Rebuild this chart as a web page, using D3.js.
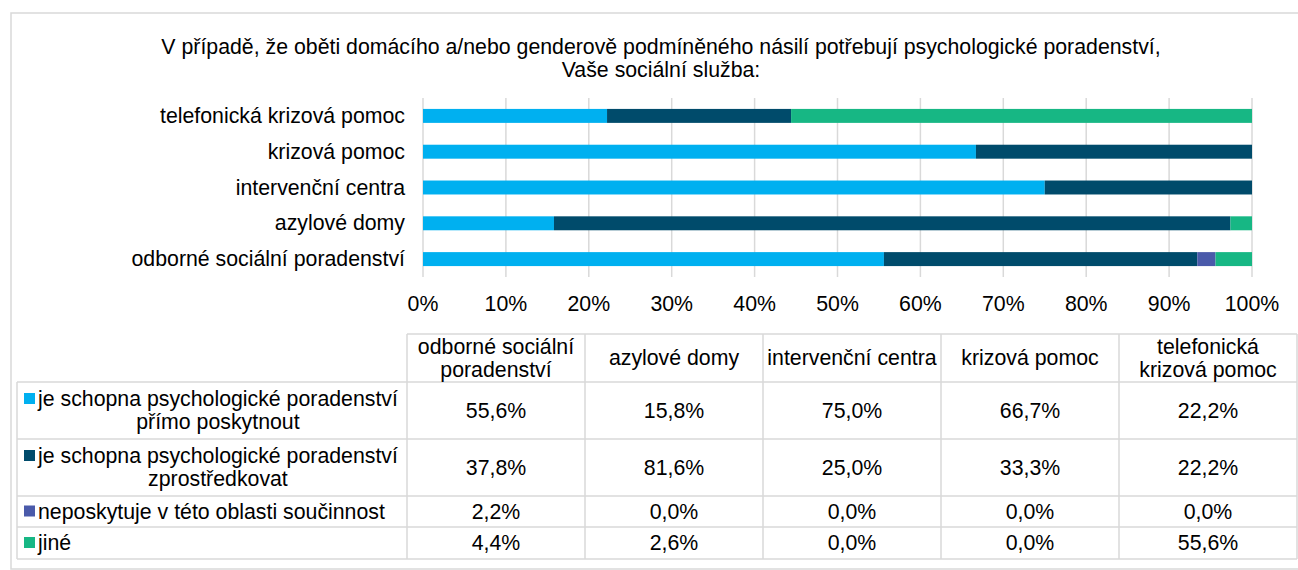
<!DOCTYPE html>
<html>
<head>
<meta charset="utf-8">
<script src="https://cdn.jsdelivr.net/npm/d3@7"></script>
<style>
  html, body { margin: 0; padding: 0; background: #fff; }
  svg { display: block; font-family: "Liberation Sans", Arial, sans-serif; }
</style>
</head>
<body>
<svg id="chart" width="1298" height="570"></svg>
<script>
// data
const titleLines = [
  "V případě, že oběti domácího a/nebo genderově podmíněného násilí potřebují psychologické poradenství,",
  "Vaše sociální služba:"
];
const categories = [
  "odborné sociální poradenství",
  "azylové domy",
  "intervenční centra",
  "krizová pomoc",
  "telefonická krizová pomoc"
];
const headerLines = [
  ["odborné sociální", "poradenství"],
  ["azylové domy"],
  ["intervenční centra"],
  ["krizová pomoc"],
  ["telefonická", "krizová pomoc"]
];
const seriesKeys = ["primo", "zprostredkovat", "neposkytuje", "jine"];
const seriesLines = [
  ["je schopna psychologické poradenství", "přímo poskytnout"],
  ["je schopna psychologické poradenství", "zprostředkovat"],
  ["neposkytuje v této oblasti součinnost"],
  ["jiné"]
];
const seriesColors = ["#00b0f0", "#004b6b", "#4a5aaa", "#17b784"];
const primo = [55.6, 15.8, 75.0, 66.7, 22.2];
const zprostredkovat = [37.8, 81.6, 25.0, 33.3, 22.2];
const neposkytuje = [2.2, 0.0, 0.0, 0.0, 0.0];
const jine = [4.4, 2.6, 0.0, 0.0, 55.6];
const xTicks = [0, 10, 20, 30, 40, 50, 60, 70, 80, 90, 100];

const seriesValues = [primo, zprostredkovat, neposkytuje, jine];
const rows = categories.map((c, i) => {
  const r = { cat: c };
  seriesKeys.forEach((k, j) => (r[k] = seriesValues[j][i]));
  return r;
});

const svg = d3.select("#chart");
const FS = 21.3;
const grid = "#d9d9d9";

// outer frame
svg.append("rect")
  .attr("x", 11).attr("y", 13)
  .attr("width", 1310).attr("height", 556)
  .attr("fill", "none").attr("stroke", grid).attr("stroke-width", 1.5);

// title
svg.append("g").selectAll("text")
  .data(titleLines)
  .join("text")
  .attr("x", 661)
  .attr("y", (d, i) => 54 + i * 23)
  .attr("text-anchor", "middle")
  .style("font-size", FS + "px")
  .text((d) => d);

// scales
const x = d3.scaleLinear().domain([0, 100]).range([423, 1252]);
const y = d3.scaleBand()
  .domain(categories.slice().reverse())
  .range([98, 277]);
const barH = y.bandwidth() * 0.39;

// gridlines
svg.append("g").selectAll("line")
  .data(xTicks)
  .join("line")
  .attr("x1", (d) => x(d)).attr("x2", (d) => x(d))
  .attr("y1", 98).attr("y2", 277)
  .attr("stroke", grid).attr("stroke-width", 1.5);

// stacked bars
const stack = d3.stack().keys(seriesKeys)(rows);
svg.append("g").selectAll("g")
  .data(stack)
  .join("g")
  .attr("fill", (d, i) => seriesColors[i])
  .selectAll("rect")
  .data((d) => d)
  .join("rect")
  .attr("x", (d) => x(d[0]))
  .attr("width", (d) => x(d[1]) - x(d[0]))
  .attr("y", (d) => y(d.data.cat) + (y.bandwidth() - barH) / 2)
  .attr("height", barH);

// category labels
svg.append("g").selectAll("text")
  .data(categories)
  .join("text")
  .attr("x", 405)
  .attr("y", (d) => y(d) + y.bandwidth() / 2 + 7)
  .attr("text-anchor", "end")
  .style("font-size", FS + "px")
  .text((d) => d);

// x tick labels
svg.append("g").selectAll("text")
  .data(xTicks)
  .join("text")
  .attr("x", (d) => x(d))
  .attr("y", 311)
  .attr("text-anchor", "middle")
  .style("font-size", FS + "px")
  .text((d) => d + "%");

// data table
const colX = d3.scaleBand().domain(categories).range([407, 1297]);
const rowEdges = [382, 439, 496, 527, 559];
const tableTop = 334;
const legLeft = 17;
const t = svg.append("g");

// borders
const hLines = [
  { x1: colX.range()[0], x2: colX.range()[1], y: tableTop }
].concat(rowEdges.map((e) => ({ x1: legLeft, x2: 1297, y: e })));
t.selectAll("line.h")
  .data(hLines)
  .join("line")
  .attr("class", "h")
  .attr("x1", (d) => d.x1).attr("x2", (d) => d.x2)
  .attr("y1", (d) => d.y).attr("y2", (d) => d.y)
  .attr("stroke", grid).attr("stroke-width", 1.5);

const vLines = categories.map((c) => colX(c)).concat([1297]);
t.selectAll("line.v")
  .data(vLines)
  .join("line")
  .attr("class", "v")
  .attr("x1", (d) => d).attr("x2", (d) => d)
  .attr("y1", tableTop).attr("y2", rowEdges[rowEdges.length - 1])
  .attr("stroke", grid).attr("stroke-width", 1.5);
t.append("line")
  .attr("x1", legLeft).attr("x2", legLeft)
  .attr("y1", rowEdges[0]).attr("y2", rowEdges[rowEdges.length - 1])
  .attr("stroke", grid).attr("stroke-width", 1.5);

// header
categories.forEach((c, i) => {
  const lines = headerLines[i];
  const cy = (tableTop + rowEdges[0]) / 2;
  t.selectAll(null)
    .data(lines)
    .join("text")
    .attr("x", colX(c) + colX.bandwidth() / 2)
    .attr("y", (d, k) => cy + 7 + (k - (lines.length - 1) / 2) * 23)
    .attr("text-anchor", "middle")
    .style("font-size", FS + "px")
    .text((d) => d);
});

// series rows
seriesKeys.forEach((k, j) => {
  const top = rowEdges[j], bot = rowEdges[j + 1];
  const cy = (top + bot) / 2;
  const lines = seriesLines[j];
  const firstY = cy + 7 - ((lines.length - 1) / 2) * 23;

  t.append("rect")
    .attr("x", 24).attr("y", firstY - 13)
    .attr("width", 11).attr("height", 11)
    .attr("fill", seriesColors[j]);

  const first = t.append("text")
    .attr("x", 38).attr("y", firstY)
    .style("font-size", FS + "px")
    .text(lines[0]);
  if (lines.length > 1) {
    const w = first.node().getComputedTextLength();
    t.append("text")
      .attr("x", 38 + w / 2).attr("y", firstY + 23)
      .attr("text-anchor", "middle")
      .style("font-size", FS + "px")
      .text(lines[1]);
  }

  t.selectAll(null)
    .data(rows)
    .join("text")
    .attr("x", (d) => colX(d.cat) + colX.bandwidth() / 2)
    .attr("y", cy + 7)
    .attr("text-anchor", "middle")
    .style("font-size", FS + "px")
    .text((d) => d[k].toFixed(1).replace(".", ",") + "%");
});
</script>
</body>
</html>
